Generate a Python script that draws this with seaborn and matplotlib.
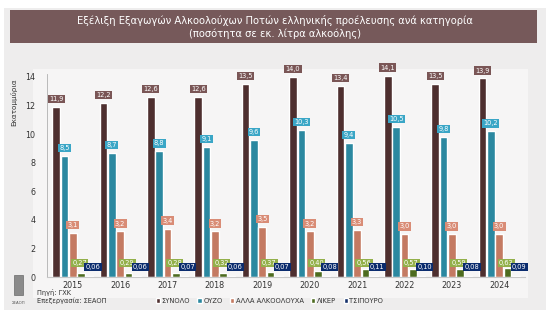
import matplotlib
matplotlib.use("Agg")
import matplotlib.pyplot as plt
from matplotlib.patches import Rectangle
import numpy as np
import pandas as pd
import seaborn as sns

years = ["2015", "2016", "2017", "2018", "2019", "2020", "2021", "2022", "2023", "2024"]
series = ["ΣΥΝΟΛΟ", "ΟΥΖΟ", "ΑΛΛΑ ΑΛΚΟΟΛΟΥΧΑ", "ΛΙΚΕΡ", "ΤΣΙΠΟΥΡΟ"]
synolo = [11.9, 12.2, 12.6, 12.6, 13.5, 14.0, 13.4, 14.1, 13.5, 13.9]
ouzo = [8.5, 8.7, 8.8, 9.1, 9.6, 10.3, 9.4, 10.5, 9.8, 10.2]
alla = [3.1, 3.2, 3.4, 3.2, 3.5, 3.2, 3.3, 3.0, 3.0, 3.0]
liker = [0.27, 0.29, 0.28, 0.32, 0.37, 0.40, 0.56, 0.57, 0.59, 0.63]
tsipouro = [0.06, 0.06, 0.07, 0.06, 0.07, 0.08, 0.11, 0.10, 0.08, 0.09]
decimals = [1, 1, 1, 2, 2]

bar_colors = ["#4e2f2f", "#2b88a0", "#c47a62", "#4d6b1f", "#14306a"]
label_colors = ["#7a5656", "#3aa6c6", "#d98c76", "#93b04a", "#0b2c6e"]

values = [synolo, ouzo, alla, liker, tsipouro]
df = pd.DataFrame({
    "year": np.tile(years, len(series)),
    "series": np.repeat(series, len(years)),
    "value": np.concatenate(values),
})

sns.set_theme(style="white")
plt.rcParams["font.family"] = ["DejaVu Sans"]

fig = plt.figure(figsize=(5.5, 3.28), dpi=100)
fig.patch.set_facecolor("white")

# panel background
fig.add_artist(Rectangle((0.008, 0.055), 0.985, 0.92, transform=fig.transFigure,
                         facecolor="#eeeded", edgecolor="none", zorder=-10))
fig.add_artist(Rectangle((0.06, 0.09), 0.9, 0.7, transform=fig.transFigure,
                         facecolor="#f6f5f5", edgecolor="none", zorder=-9))
# title banner
fig.add_artist(Rectangle((0.018, 0.868), 0.958, 0.1, transform=fig.transFigure,
                         facecolor="#76595a", edgecolor="none", zorder=-8))
fig.text(0.5, 0.938, "Εξέλιξη Εξαγωγών Αλκοολούχων Ποτών ελληνικής προέλευσης ανά κατηγορία",
         ha="center", va="center", color="white", fontsize=7.2)
fig.text(0.5, 0.898, "(ποσότητα σε εκ. λίτρα αλκοόλης)",
         ha="center", va="center", color="white", fontsize=7.2)

ax = fig.add_axes([0.085, 0.155, 0.87, 0.619])
ax.set_facecolor("none")
sns.barplot(data=df, x="year", y="value", hue="series", palette=bar_colors,
            width=0.88, gap=0.08, ax=ax, legend=True, saturation=1)
ax.set_ylim(0, 14.2)
ax.set_yticks(range(0, 15, 2))
ax.set_xlim(-0.55, 9.55)
ax.set_xlabel("")
ax.set_ylabel("")
ax.tick_params(axis="both", labelsize=5.8, colors="#333333", length=0, pad=3)
ax.tick_params(axis="y", length=2, color="#aaaaaa", pad=6)
for s in ["top", "right"]:
    ax.spines[s].set_visible(False)
ax.spines["left"].set_color("#b0b0b0")
ax.spines["left"].set_linewidth(0.6)
ax.spines["bottom"].set_color("#c8c8c8")
ax.spines["bottom"].set_linewidth(0.8)
ax.text(-0.07, 0.86, "Εκατομμύρια", transform=ax.transAxes, rotation=90,
        ha="center", va="center", fontsize=5.2, color="#333333")

# value labels in coloured boxes
for i, cont in enumerate(ax.containers):
    for bar, v in zip(cont, values[i]):
        x = bar.get_x() + bar.get_width() / 2
        h = bar.get_height()
        dx = 0
        if i == 3:
            y, dx = 0.98, -1.0
        elif i == 4:
            y, dx = 0.72, 2.5
        else:
            y = h + 0.55
        txt = f"{v:.{decimals[i]}f}".replace(".", ",")
        ax.annotate(txt, (x, y), xytext=(dx, 0), textcoords="offset points",
                    ha="center", va="center", fontsize=4.8, color="white",
                    annotation_clip=False, zorder=5,
                    bbox=dict(boxstyle="square,pad=0.18", facecolor=label_colors[i],
                              edgecolor="none"))

handles, labels = ax.get_legend_handles_labels()
ax.get_legend().remove()
fig.legend(handles, labels, loc="center", bbox_to_anchor=(0.49, 0.083), ncol=5,
           frameon=False, fontsize=4.9, handlelength=0.6, handleheight=0.6,
           handletextpad=0.25, columnspacing=1.1, labelcolor="#333333")

# source notes and logo
fig.text(0.068, 0.107, "Πηγή: ΓΧΚ", fontsize=4.8, color="#333333", va="center")
fig.text(0.068, 0.083, "Επεξεργασία: ΣΕΑΟΠ", fontsize=4.8, color="#333333", va="center")
fig.add_artist(Rectangle((0.026, 0.1), 0.016, 0.062, transform=fig.transFigure,
                         facecolor="#8a8a8a", edgecolor="#555555", linewidth=0.4))
fig.text(0.034, 0.076, "ΣΕΑΟΠ", fontsize=2.8, color="#555555", ha="center", va="center")

fig.savefig("out.png", dpi=100, facecolor=fig.get_facecolor())
